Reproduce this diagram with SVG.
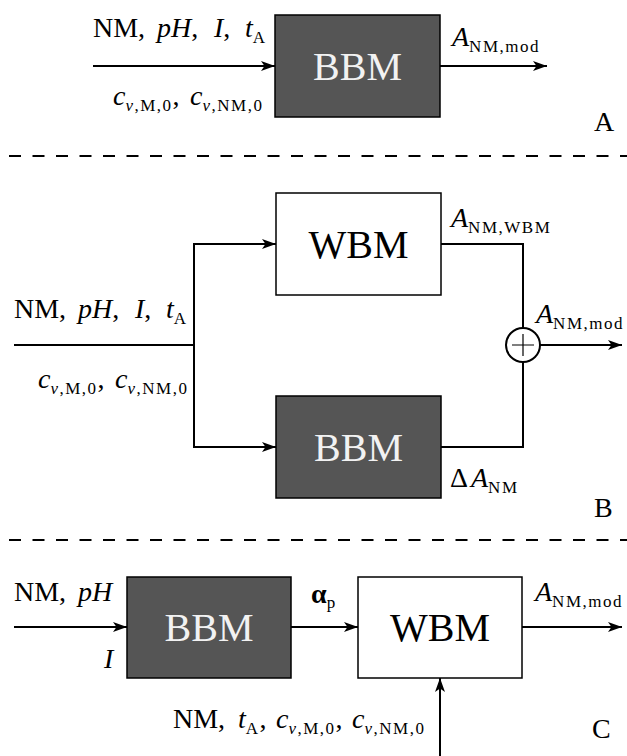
<svg xmlns="http://www.w3.org/2000/svg" width="627" height="756" viewBox="0 0 627 756">
<style>
.t{font-family:"Liberation Serif","DejaVu Serif",serif;font-size:28px;fill:#000}
.i{font-style:italic}
.s{font-size:17px;letter-spacing:1.5px}
.big{font-family:"Liberation Serif","DejaVu Serif",serif;font-size:40px;text-anchor:middle}
.pl{font-family:"Liberation Serif","DejaVu Serif",serif;font-size:28px;fill:#000}
.ln{stroke:#000;stroke-width:2;fill:none}
.dash{stroke:#000;stroke-width:2;stroke-dasharray:12 11.5;fill:none}
.dk{fill:#555555;stroke:#000;stroke-width:1.5}
.lt{fill:#ffffff;stroke:#000;stroke-width:1.5}
</style>
<defs>
<marker id="ah" markerWidth="15" markerHeight="11" refX="14" refY="5.5" orient="auto" markerUnits="userSpaceOnUse">
<path d="M0,0.5 L14,5.5 L0,10.5 L3.5,5.5 Z" fill="#000"/>
</marker>
</defs>
<rect width="627" height="756" fill="#fff"/>

<g id="separators">
<line class="dash" x1="9" y1="156" x2="627" y2="156"/>
<line class="dash" x1="9" y1="540" x2="627" y2="540"/>
</g>

<g id="A-bbm">
<rect class="dk" x="275" y="15" width="165" height="102"/>
<text class="big" x="357.5" y="80" fill="#f2f2f2">BBM</text>
</g>
<g id="B-wbm">
<rect class="lt" x="276" y="193" width="165" height="102"/>
<text class="big" x="358.5" y="258" fill="#000">WBM</text>
</g>
<g id="B-bbm">
<rect class="dk" x="276" y="396" width="165" height="102"/>
<text class="big" x="358.5" y="461" fill="#f2f2f2">BBM</text>
</g>
<g id="B-sum">
<circle cx="523" cy="345" r="17" fill="#fff" stroke="#000" stroke-width="2"/>
<path d="M512,345 H534 M523,334 V356" stroke="#000" stroke-width="1.2" fill="none"/>
</g>
<g id="C-bbm">
<rect class="dk" x="127" y="577" width="164" height="101"/>
<text class="big" x="209" y="641" fill="#f2f2f2">BBM</text>
</g>
<g id="C-wbm">
<rect class="lt" x="358" y="577" width="164" height="101"/>
<text class="big" x="440" y="641" fill="#000">WBM</text>
</g>

<g id="connectors">
<line class="ln" x1="93" y1="66" x2="275" y2="66" marker-end="url(#ah)"/>
<line class="ln" x1="440" y1="66" x2="547" y2="66" marker-end="url(#ah)"/>
<line class="ln" x1="14" y1="345" x2="194" y2="345"/>
<path class="ln" d="M194,345 V244 H276" marker-end="url(#ah)"/>
<path class="ln" d="M194,345 V447 H276" marker-end="url(#ah)"/>
<path class="ln" d="M441,244 H523 V328"/>
<path class="ln" d="M441,447 H523 V362"/>
<line class="ln" x1="540" y1="345" x2="622" y2="345" marker-end="url(#ah)"/>
<line class="ln" x1="14" y1="627" x2="127" y2="627" marker-end="url(#ah)"/>
<line class="ln" x1="291" y1="627" x2="358" y2="627" marker-end="url(#ah)"/>
<line class="ln" x1="522" y1="627" x2="622" y2="627" marker-end="url(#ah)"/>
<line class="ln" x1="440" y1="756" x2="440" y2="678" marker-end="url(#ah)"/>
</g>

<g id="labels">
<text class="t" y="37"><tspan x="93">NM,</tspan><tspan x="157" class="i">pH</tspan><tspan>,</tspan><tspan x="214" class="i">I</tspan><tspan>,</tspan><tspan x="245" class="i">t</tspan><tspan class="s" dy="6">A</tspan></text>
<text class="t" y="105"><tspan x="113" class="i">c</tspan><tspan class="s" dy="6"><tspan class="i">v</tspan>,M,0</tspan><tspan dy="-6">,</tspan><tspan x="190" class="i">c</tspan><tspan class="s" dy="6"><tspan class="i">v</tspan>,NM,0</tspan></text>
<text class="t" y="46"><tspan x="452" class="i">A</tspan><tspan class="s" dy="6">NM,mod</tspan></text>
<text class="pl" x="594" y="131">A</text>

<text class="t" y="227"><tspan x="451" class="i">A</tspan><tspan class="s" dy="6">NM,WBM</tspan></text>
<text class="t" y="318"><tspan x="14">NM,</tspan><tspan x="78" class="i">pH</tspan><tspan>,</tspan><tspan x="135" class="i">I</tspan><tspan>,</tspan><tspan x="166" class="i">t</tspan><tspan class="s" dy="6">A</tspan></text>
<text class="t" y="388"><tspan x="38" class="i">c</tspan><tspan class="s" dy="6"><tspan class="i">v</tspan>,M,0</tspan><tspan dy="-6">,</tspan><tspan x="115" class="i">c</tspan><tspan class="s" dy="6"><tspan class="i">v</tspan>,NM,0</tspan></text>
<text class="t" y="323"><tspan x="536" class="i">A</tspan><tspan class="s" dy="6">NM,mod</tspan></text>
<text class="t" y="487"><tspan x="450">Δ</tspan><tspan x="471" class="i">A</tspan><tspan class="s" dy="6">NM</tspan></text>
<text class="pl" x="594" y="517">B</text>

<text class="t" y="601"><tspan x="14">NM,</tspan><tspan x="78" class="i">pH</tspan></text>
<text class="t i" x="104" y="668">I</text>
<text class="t" y="603"><tspan x="311" font-weight="bold">α</tspan><tspan class="s" dy="5">p</tspan></text>
<text class="t" y="601"><tspan x="535" class="i">A</tspan><tspan class="s" dy="6">NM,mod</tspan></text>
<text class="t" y="728"><tspan x="173">NM,</tspan><tspan x="238" class="i">t</tspan><tspan class="s" dy="6">A</tspan><tspan dy="-6">,</tspan><tspan x="276" class="i">c</tspan><tspan class="s" dy="6"><tspan class="i">v</tspan>,M,0</tspan><tspan dy="-6">,</tspan><tspan x="352" class="i">c</tspan><tspan class="s" dy="6"><tspan class="i">v</tspan>,NM,0</tspan></text>
<text class="pl" x="592" y="738">C</text>
</g>
</svg>
